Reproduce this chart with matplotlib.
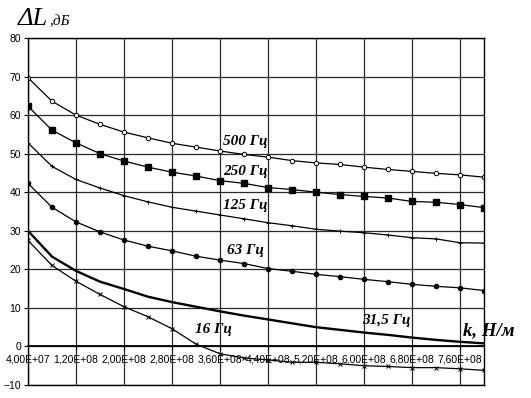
import numpy as np
import matplotlib
matplotlib.use("Agg")
import matplotlib.pyplot as plt
from matplotlib.ticker import FixedLocator, FixedFormatter

# ---- data ----
k_values = [4.0e7, 8.0e7, 1.2e8, 1.6e8, 2.0e8, 2.4e8, 2.8e8, 3.2e8, 3.6e8, 4.0e8,
            4.4e8, 4.8e8, 5.2e8, 5.6e8, 6.0e8, 6.4e8, 6.8e8, 7.2e8, 7.6e8, 8.0e8]

dl_500 = [69.7, 63.6, 60.0, 57.6, 55.6, 54.1, 52.7, 51.7, 50.7, 49.8,
          49.1, 48.2, 47.6, 47.2, 46.5, 45.9, 45.4, 44.9, 44.5, 43.9]
dl_250 = [62.3, 56.1, 52.8, 50.0, 48.1, 46.5, 45.2, 44.2, 43.0, 42.3,
          41.2, 40.7, 40.0, 39.4, 38.9, 38.5, 37.6, 37.4, 36.8, 36.0]
dl_125 = [52.8, 46.7, 43.3, 41.1, 39.1, 37.5, 36.1, 35.1, 34.1, 33.1,
          32.1, 31.3, 30.4, 29.9, 29.5, 28.9, 28.2, 27.9, 26.9, 26.8]
dl_63 = [42.3, 36.1, 32.3, 29.7, 27.6, 26.0, 24.8, 23.4, 22.4, 21.5,
         20.2, 19.5, 18.7, 18.1, 17.4, 16.8, 16.1, 15.6, 15.2, 14.5]
dl_31_5 = [30.0, 23.3, 19.6, 16.8, 14.9, 12.9, 11.5, 10.3, 9.1, 8.0,
           7.0, 6.0, 5.0, 4.3, 3.6, 3.0, 2.3, 1.7, 1.2, 0.8]
dl_16 = [27.5, 21.0, 16.9, 13.5, 10.3, 7.7, 4.6, 0.6, -1.9, -3.0,
         -3.5, -4.1, -4.1, -4.5, -5.0, -5.2, -5.5, -5.5, -5.8, -6.2]

series_labels = ["500 Гц", "250 Гц", "125 Гц", "63 Гц", "31,5 Гц", "16 Гц"]

x_ticks = [4.0e7, 1.2e8, 2.0e8, 2.8e8, 3.6e8, 4.4e8, 5.2e8, 6.0e8, 6.8e8, 7.6e8]
x_tick_labels = ["4,00E+07", "1,20E+08", "2,00E+08", "2,80E+08", "3,60E+08",
                 "4,40E+08", "5,20E+08", "6,00E+08", "6,80E+08", "7,60E+08"]
y_ticks = [-10, 0, 10, 20, 30, 40, 50, 60, 70, 80]

# ---- figure ----
W, H = 531, 398
fig = plt.figure(figsize=(W / 100, H / 100), dpi=100)
fig.patch.set_facecolor("white")
ax = fig.add_axes([28 / W, 1 - 385 / H, (484 - 28) / W, (385 - 38) / H])

ax.set_xlim(4.0e7, 8.0e8)
ax.set_ylim(-10, 80)

ax.grid(True, color="#2a2a2a", linewidth=0.9)
ax.set_axisbelow(True)

lw = 0.9
ax.plot(k_values, dl_500, color="black", lw=lw, marker="o", ms=3.2,
        mfc="white", mec="black", mew=0.7)
ax.plot(k_values, dl_250, color="black", lw=lw, marker="s", ms=3.8,
        mfc="black", mec="black")
ax.plot(k_values, dl_125, color="black", lw=lw, marker="+", ms=3.2, mew=0.7)
ax.plot(k_values, dl_63, color="black", lw=lw, marker="o", ms=3.0,
        mfc="black", mec="black")
ax.plot(k_values, dl_31_5, color="black", lw=1.7)
ax.plot(k_values, dl_16, color="black", lw=lw, marker="x", ms=3.2, mew=0.7)

# axes & ticks
ax.spines["bottom"].set_position(("data", 0))
for s in ax.spines.values():
    s.set_color("black")
    s.set_linewidth(1.0)
ax.spines["bottom"].set_linewidth(1.3)

ax.xaxis.set_major_locator(FixedLocator(x_ticks))
ax.xaxis.set_major_formatter(FixedFormatter(x_tick_labels))
ax.yaxis.set_major_locator(FixedLocator(y_ticks))
ax.tick_params(axis="x", direction="out", length=3, pad=3, labelsize=7.5)
ax.tick_params(axis="y", direction="out", length=3, pad=2, labelsize=7.5)
for lab in ax.get_xticklabels() + ax.get_yticklabels():
    lab.set_family("Liberation Sans")

# extra frame line at the bottom edge
ax.axhline(-10, color="black", lw=1.0, clip_on=False)

# series labels
lab_font = dict(family="Liberation Serif", weight="bold", style="italic",
                fontsize=11, color="black", va="center", ha="left")
label_pos = [(3.65e8, 53.1), (3.65e8, 45.5), (3.65e8, 36.6),
             (3.72e8, 25.0), (5.97e8, 6.8), (3.18e8, 4.3)]
for txt, (lx, ly) in zip(series_labels, label_pos):
    ax.text(lx, ly, txt, **lab_font)

ax.text(7.65e8, 4.0, "k, Н/м", family="Liberation Serif", weight="bold",
        style="italic", fontsize=13.5, va="center", ha="left", clip_on=False)

# y-axis title
fig.text(18 / W, 1 - 25 / H, "ΔL", family="Liberation Serif", style="italic",
         fontsize=19, va="baseline", ha="left")
fig.text(50 / W, 1 - 25 / H, ",дБ", family="Liberation Serif", style="italic",
         fontsize=11, va="baseline", ha="left")

fig.savefig("out.png", dpi=100, facecolor="white")
